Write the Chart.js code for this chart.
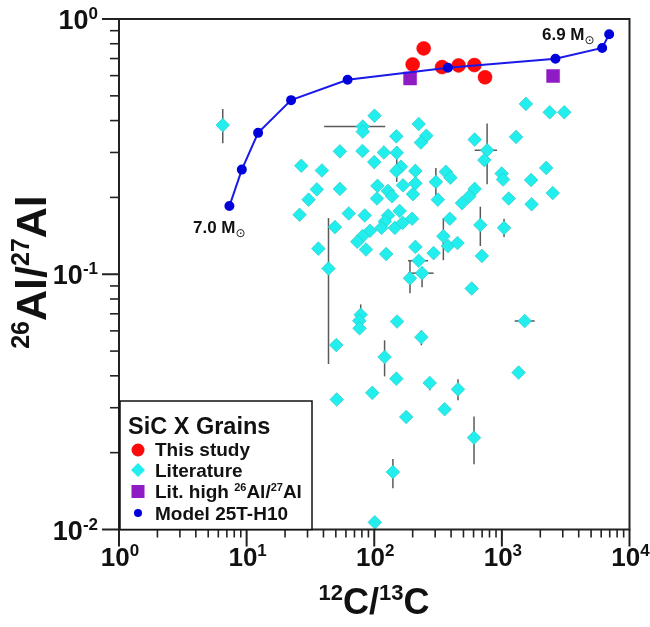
<!DOCTYPE html>
<html><head><meta charset="utf-8">
<script src="https://cdn.jsdelivr.net/npm/chart.js@4.4.1/dist/chart.umd.min.js"></script>
<style>html,body{margin:0;padding:0;background:#fff;}#wrap{width:650px;height:627px;}</style>
</head><body><div id="wrap"><canvas id="c" width="650" height="627"></canvas></div>
<script>
// ---- data ----
const modelC  = [7.33, 9.17, 12.3, 22.3, 61.8, 378, 2630, 6110, 6930];
const modelAl = [0.185, 0.257, 0.358, 0.481, 0.578, 0.644, 0.699, 0.770, 0.871];
const studyC  = [200, 244, 340, 458, 609, 738];
const studyAl = [0.664, 0.767, 0.648, 0.658, 0.660, 0.591];
const highC   = [191, 2520];
const highAl  = [0.585, 0.598];
const litC = [6.50, 100.5, 223, 81.3, 81.3, 149, 256, 232, 53.8, 80.9,
  119, 150, 100, 26.8, 38.9, 162, 149, 210, 35.5, 53.8,
  106, 168, 210, 30.6, 128, 138, 105, 201, 26.0, 63.1,
  84.2, 128.5, 158, 198, 121, 114, 145, 167, 49.2, 92.5,
  80.9, 73.6, 36.5, 86.1, 124, 210, 223, 237, 190.5, 43.8,
  78.3, 76.3, 76.7, 1542, 2371, 3083, 612, 766, 729, 1292,
  2225, 996, 1022, 1694, 2502, 304, 364, 395, 315, 612,
  556, 487, 1131, 1710, 391, 678, 1040, 348, 378, 449,
  292, 697, 580, 151, 234, 50.4, 120.5, 149, 272, 50.8,
  96.5, 178, 140, 101, 1510, 1352, 453, 356, 605];
const litAl = [0.384, 0.418, 0.388, 0.379, 0.362, 0.347, 0.349, 0.328, 0.303, 0.304,
  0.300, 0.299, 0.275, 0.266, 0.255, 0.264, 0.254, 0.254, 0.215, 0.216,
  0.222, 0.223, 0.227, 0.196, 0.212, 0.202, 0.198, 0.206, 0.171, 0.173,
  0.170, 0.170, 0.177, 0.165, 0.161, 0.152, 0.152, 0.159, 0.153, 0.148,
  0.141, 0.134, 0.126, 0.125, 0.120, 0.128, 0.113, 0.101, 0.0965, 0.1053,
  0.0694, 0.0657, 0.0614, 0.465, 0.431, 0.431, 0.337, 0.306, 0.280, 0.345,
  0.261, 0.248, 0.235, 0.234, 0.208, 0.230, 0.252, 0.239, 0.196, 0.216,
  0.202, 0.190, 0.198, 0.188, 0.165, 0.156, 0.152, 0.141, 0.129, 0.1325,
  0.121, 0.118, 0.0879, 0.0653, 0.0567, 0.0528, 0.0474, 0.0390, 0.0375, 0.0323,
  0.0343, 0.0276, 0.0168, 0.01067, 0.0656, 0.0412, 0.0354, 0.0296, 0.0229];
// vertical error bars: x, low, high
const vErrC  = [6.50, 150, 237, 190.5, 43.8, 78.3, 766, 304, 678, 1040, 348, 234, 120.5, 272, 140, 453, 605];
const vErrLo = [0.326, 0.230, 0.0889, 0.0842, 0.0445, 0.066, 0.225, 0.201, 0.129, 0.140, 0.1135, 0.0527, 0.0398, 0.0351, 0.0145, 0.0321, 0.0180];
const vErrHi = [0.444, 0.318, 0.107, 0.1135, 0.166, 0.0762, 0.390, 0.261, 0.184, 0.165, 0.166, 0.0603, 0.0551, 0.0395, 0.0189, 0.0388, 0.0277];
// horizontal error bars: y, low, high
const hErrAl = [0.379, 0.113, 0.101, 0.306, 0.0656];
const hErrLo = [40.5, 184, 184, 612, 1260];
const hErrHi = [122, 264, 292, 917, 1808];
const xTicks = [1, 10, 100, 1000, 10000];
const xTickExp = ['0', '1', '2', '3', '4'];
const yTicks = [1, 0.1, 0.01];
const yTickExp = ['0', '-1', '-2'];

const pts = (xs, ys) => xs.map((x, i) => ({x: x, y: ys[i]}));
const F = 'Liberation Sans, Arial, sans-serif';

function rich(ctx, parts, x, y, align) {
  let w = 0;
  parts.forEach(p => { ctx.font = p.f; p.w = ctx.measureText(p.t).width; w += p.w; });
  let cx = align === 'center' ? x - w / 2 : (align === 'right' ? x - w : x);
  parts.forEach(p => { ctx.font = p.f; ctx.textAlign = 'left'; ctx.textBaseline = 'alphabetic'; ctx.fillText(p.t, cx, y + (p.dy || 0)); cx += p.w; });
}

const deco = {
  id: 'deco',
  beforeDatasetsDraw(chart) {
    const ctx = chart.ctx, xs = chart.scales.x, ys = chart.scales.y;
    ctx.save();
    ctx.strokeStyle = '#5a5a5a'; ctx.lineWidth = 1.5;
    vErrC.forEach((c, i) => {
      const px = xs.getPixelForValue(c);
      ctx.beginPath(); ctx.moveTo(px, ys.getPixelForValue(vErrLo[i])); ctx.lineTo(px, ys.getPixelForValue(vErrHi[i])); ctx.stroke();
    });
    hErrAl.forEach((a, i) => {
      const py = ys.getPixelForValue(a);
      ctx.beginPath(); ctx.moveTo(xs.getPixelForValue(hErrLo[i]), py); ctx.lineTo(xs.getPixelForValue(hErrHi[i]), py); ctx.stroke();
    });
    ctx.restore();
  },
  afterDraw(chart) {
    const ctx = chart.ctx, xs = chart.scales.x, ys = chart.scales.y, a = chart.chartArea;
    ctx.save();
    ctx.fillStyle = '#111'; ctx.strokeStyle = '#222';
    ctx.lineWidth = 2;
    ctx.strokeRect(a.left, a.top, a.right - a.left, a.bottom - a.top);
    for (let e = 0; e <= 4; e++) {
      for (let m = 1; m <= 9; m++) {
        const v = m * Math.pow(10, e);
        if (v > 10000) break;
        const px = xs.getPixelForValue(v);
        ctx.lineWidth = m === 1 ? 2 : 1.6;
        ctx.beginPath(); ctx.moveTo(px, a.bottom); ctx.lineTo(px, a.bottom + (m === 1 ? 17 : 8)); ctx.stroke();
      }
    }
    for (let e = -2; e <= 0; e++) {
      for (let m = 1; m <= 9; m++) {
        const v = m * Math.pow(10, e);
        if (v > 1) break;
        const py = ys.getPixelForValue(v);
        ctx.lineWidth = m === 1 ? 2 : 1.6;
        ctx.beginPath(); ctx.moveTo(a.left, py); ctx.lineTo(a.left - (m === 1 ? 17 : 9), py); ctx.stroke();
      }
    }
    ctx.fillStyle = '#111';
    xTicks.forEach((v, i) => {
      rich(ctx, [{t: '10', f: 'bold 26px ' + F}, {t: xTickExp[i], f: 'bold 17px ' + F, dy: -10}], xs.getPixelForValue(v) + 1, 566, 'center');
    });
    yTicks.forEach((v, i) => {
      rich(ctx, [{t: '10', f: 'bold 27px ' + F}, {t: yTickExp[i], f: 'bold 17px ' + F, dy: -10}], 98, ys.getPixelForValue(v) + 10, 'right');
    });
    rich(ctx, [{t: '12', f: 'bold 22px ' + F, dy: -14}, {t: 'C/', f: 'bold 36px ' + F}, {t: '13', f: 'bold 22px ' + F, dy: -14}, {t: 'C', f: 'bold 36px ' + F}], 374, 614, 'center');
    ctx.save();
    ctx.translate(46, 272); ctx.rotate(-Math.PI / 2);
    rich(ctx, [{t: '26', f: 'bold 25px ' + F, dy: -17}, {t: 'Al/', f: 'bold 43px ' + F}, {t: '27', f: 'bold 25px ' + F, dy: -17}, {t: 'Al', f: 'bold 43px ' + F}], 0, 0, 'center');
    ctx.restore();
    rich(ctx, [{t: '6.9 M', f: 'bold 17px ' + F}, {t: '\u2299', f: '12px DejaVu Sans', dy: 4}], 542, 40, 'left');
    rich(ctx, [{t: '7.0 M', f: 'bold 17px ' + F}, {t: '\u2299', f: '12px DejaVu Sans', dy: 4}], 193, 233, 'left');
    // legend
    ctx.fillStyle = '#fff';
    ctx.fillRect(120, 401, 192, a.bottom - 401);
    ctx.lineWidth = 1.5; ctx.strokeStyle = '#111';
    ctx.strokeRect(120, 401, 192, a.bottom - 401);
    ctx.fillStyle = '#111';
    rich(ctx, [{t: 'SiC X Grains', f: 'bold 23.5px ' + F}], 128, 434, 'left');
    const mx = 138;
    ctx.fillStyle = '#ff0a0a'; ctx.beginPath(); ctx.arc(mx, 450, 6.5, 0, 2 * Math.PI); ctx.fill();
    ctx.fillStyle = '#22eeee'; ctx.beginPath(); ctx.moveTo(mx, 463); ctx.lineTo(mx + 7, 470); ctx.lineTo(mx, 477); ctx.lineTo(mx - 7, 470); ctx.closePath(); ctx.fill();
    ctx.fillStyle = '#8f1bc4'; ctx.fillRect(mx - 6.5, 485, 13, 13);
    ctx.fillStyle = '#0000dd'; ctx.beginPath(); ctx.arc(mx, 513, 4, 0, 2 * Math.PI); ctx.fill();
    ctx.fillStyle = '#111';
    const lf = 'bold 19px ' + F;
    rich(ctx, [{t: 'This study', f: lf}], 155, 456, 'left');
    rich(ctx, [{t: 'Literature', f: lf}], 155, 477, 'left');
    rich(ctx, [{t: 'Lit. high ', f: lf}, {t: '26', f: 'bold 11px ' + F, dy: -7}, {t: 'Al/', f: lf}, {t: '27', f: 'bold 11px ' + F, dy: -7}, {t: 'Al', f: lf}], 155, 498, 'left');
    rich(ctx, [{t: 'Model 25T-H10', f: lf}], 155, 520, 'left');
    ctx.restore();
  }
};

new Chart(document.getElementById('c'), {
  type: 'scatter',
  data: {
    datasets: [
      {label: 'Model 25T-H10', data: pts(modelC, modelAl), showLine: true, tension: 0,
       borderColor: '#1a1ae8', borderWidth: 2, pointRadius: 4, pointBackgroundColor: '#0000dd', pointBorderColor: '#0000dd', order: 1},
      {label: 'This study', data: pts(studyC, studyAl), pointStyle: 'circle', pointRadius: 7,
       backgroundColor: '#ff0a0a', borderColor: '#f00000', borderWidth: 0.5, order: 2},
      {label: 'Lit. high 26Al/27Al', data: pts(highC, highAl), pointStyle: 'rect', pointRadius: 9.2,
       backgroundColor: '#8f1bc4', borderColor: '#8f1bc4', borderWidth: 0.5, order: 3},
      {label: 'Literature', data: pts(litC, litAl), pointStyle: 'rectRot', pointRadius: 6.8,
       backgroundColor: '#22eeee', borderColor: '#2cc8c8', borderWidth: 0.7, order: 4}
    ]
  },
  options: {
    responsive: false, animation: false,
    layout: {padding: {left: 119, right: 20.5, top: 19, bottom: 97.5}},
    plugins: {legend: {display: false}, tooltip: {enabled: false}},
    scales: {
      x: {type: 'logarithmic', min: 1, max: 10000, display: false},
      y: {type: 'logarithmic', min: 0.01, max: 1, display: false}
    }
  },
  plugins: [deco]
});
</script></body></html>
